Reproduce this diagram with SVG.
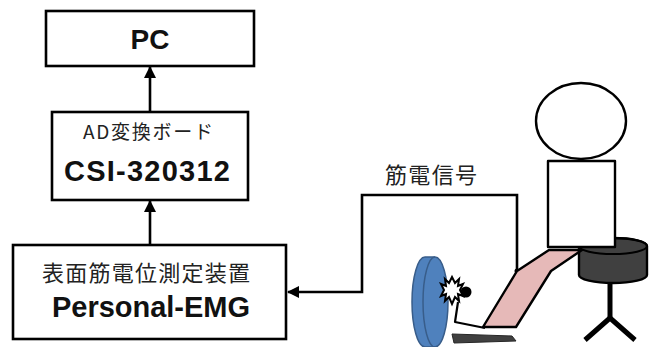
<svg xmlns="http://www.w3.org/2000/svg" width="654" height="347" viewBox="0 0 654 347">
  <style>
    .box { fill: #ffffff; stroke: #000000; stroke-width: 2.6; }
    .wire { fill: none; stroke: #000000; stroke-width: 2.6; }
    .jp { font-family: "Noto Sans CJK JP", "Noto Sans", sans-serif; fill: #222222; }
    .en { font-family: "Liberation Sans", Arial, sans-serif; font-weight: bold; fill: #111111; }
    .outline { stroke: #000000; stroke-width: 2.4; stroke-linejoin: round; }
  </style>
  <defs>
    <marker id="arrow" viewBox="0 0 12 12" refX="11" refY="6" markerWidth="12" markerHeight="12" markerUnits="userSpaceOnUse" orient="auto">
      <path d="M0,0 L12,6 L0,12 Z" fill="#000000"/>
    </marker>
  </defs>

  <rect width="654" height="347" fill="#ffffff"/>

  <!-- signal path -->
  <g id="connectors">
    <line class="wire" x1="150" y1="111" x2="150" y2="67" marker-end="url(#arrow)"/>
    <line class="wire" x1="150" y1="245" x2="150" y2="201" marker-end="url(#arrow)"/>
    <polyline class="wire" points="517,271 517,195 362,195 362,292 288,292" marker-end="url(#arrow)"/>
    <circle cx="517" cy="271" r="2.5" fill="#000000"/>
  </g>

  <g id="pc">
    <rect class="box" x="46" y="11" width="208" height="55"/>
    <text class="en" x="150" y="49" font-size="28" text-anchor="middle">PC</text>
  </g>

  <g id="ad-board">
    <rect class="box" x="52" y="112" width="196" height="88"/>
    <text class="jp" x="148" y="139" font-size="19" text-anchor="middle" textLength="130">AD変換ボード</text>
    <text class="en" x="147" y="181" font-size="29" text-anchor="middle" textLength="166">CSI-320312</text>
  </g>

  <g id="emg">
    <rect class="box" x="13" y="245" width="273" height="94"/>
    <text class="jp" x="146" y="281" font-size="22" text-anchor="middle" textLength="208">表面筋電位測定装置</text>
    <text class="en" x="151" y="317" font-size="29" text-anchor="middle" textLength="198">Personal-EMG</text>
  </g>

  <g id="signal-label">
    <text class="jp" x="431" y="183" font-size="22" text-anchor="middle" textLength="92">筋電信号</text>
  </g>

  <!-- stool behind the seated subject -->
  <g id="stool">
    <path class="outline" d="M579,246 A34,8 0 0 1 647,246 L647,275 A34,8 0 0 1 579,275 Z" fill="#404040"/>
    <ellipse cx="613" cy="246" rx="34" ry="8" fill="none" stroke="#000000" stroke-width="2"/>
    <polyline points="610,283 610,320" fill="none" stroke="#000000" stroke-width="5"/>
    <polyline points="585,340 610,318 635,340" fill="none" stroke="#000000" stroke-width="5" stroke-linejoin="round"/>
  </g>

  <g id="leg">
    <polygon class="outline" points="517,271 549,250 582,250 551,271 516,327 483,327" fill="#e6b9b8"/>
  </g>

  <g id="subject">
    <ellipse class="outline" cx="581" cy="121" rx="45" ry="38" fill="#ffffff"/>
    <rect class="outline" x="548" y="161" width="67" height="86" fill="#ffffff"/>
  </g>

  <!-- dynamometer plate, stand and electrode -->
  <g id="dynamometer">
    <path d="M425,257 L435,257 A13,45 0 0 1 435,347 L425,347 A13,45 0 0 1 425,257 Z" fill="#4f81bd" stroke="#385d8a" stroke-width="1.5"/>
    <path d="M435,257 A12,45 0 0 0 435,347" fill="none" stroke="#385d8a" stroke-width="1.5"/>
    <polygon points="452,334 512,336 516,341 454,343" fill="#404040" stroke="#262626" stroke-width="1"/>
    <polyline points="458,302 455,322 485,328" fill="none" stroke="#000000" stroke-width="2.2" stroke-linejoin="round"/>
    <circle cx="466" cy="292" r="5.5" fill="#000000"/>
    <polygon points="452,277 455,283 459,279 458,286 463,284 460,290 463,296 458,294 459,301 455,297 452,304 449,297 445,301 446,294 441,296 444,290 441,284 446,286 445,279 449,283" fill="#ffffff" stroke="#000000" stroke-width="2" stroke-linejoin="miter"/>
  </g>
</svg>
